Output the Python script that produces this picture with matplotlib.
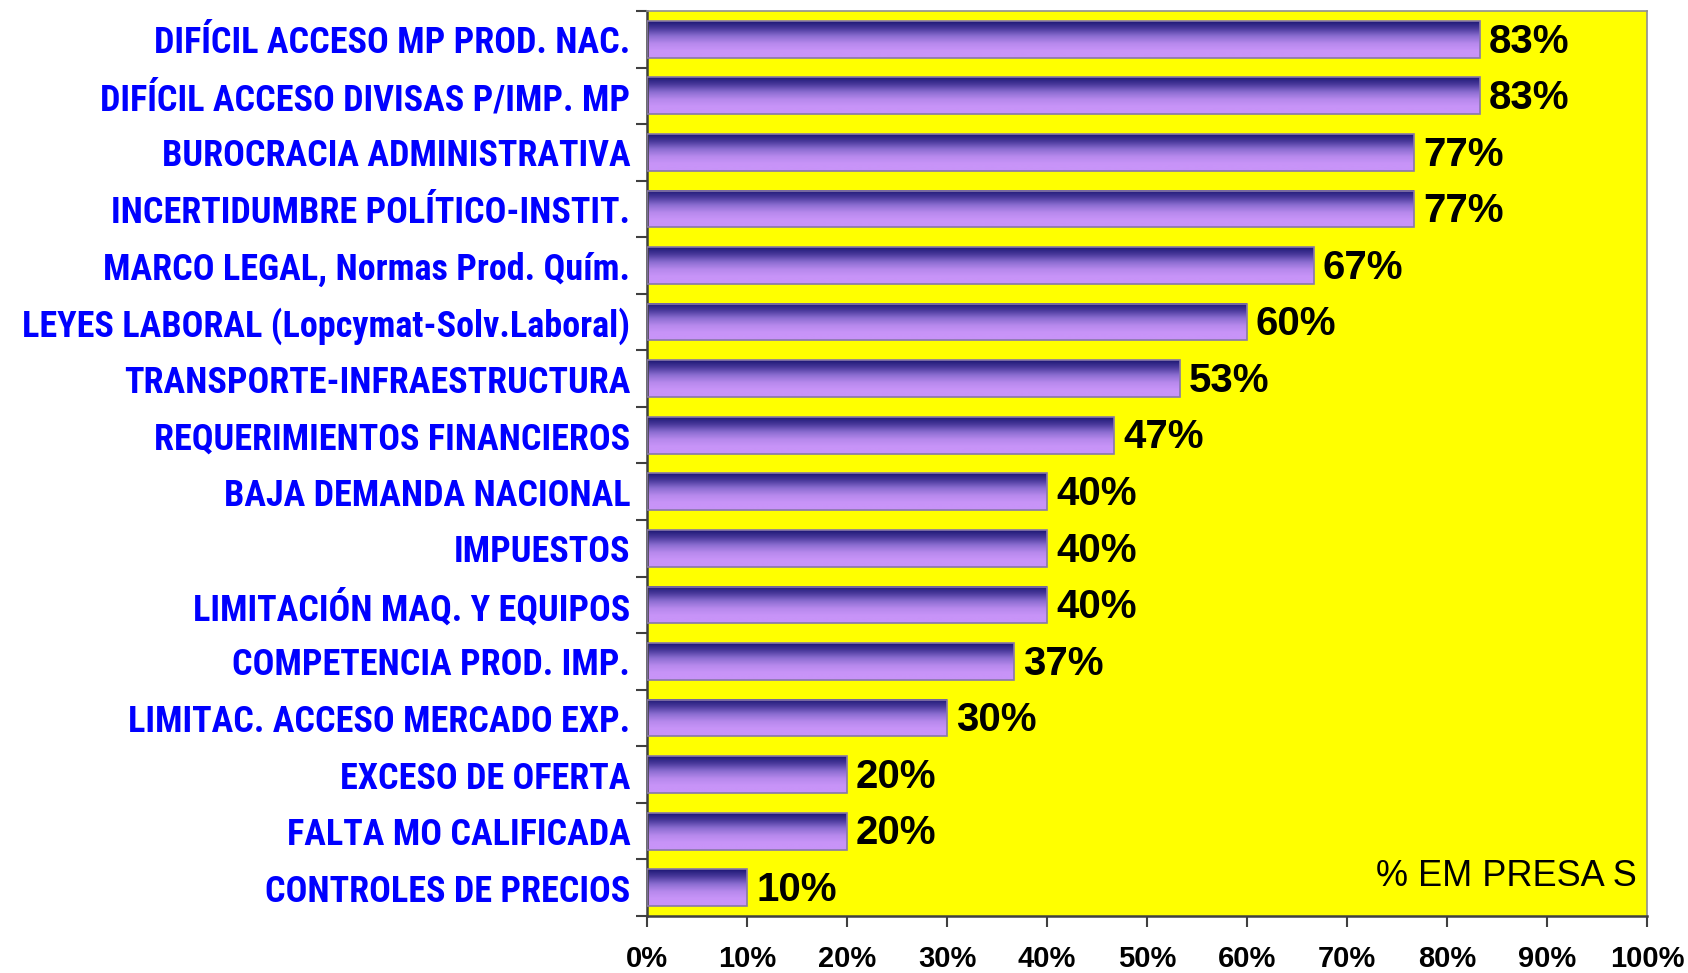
import numpy as np
import matplotlib
matplotlib.use('Agg')
import matplotlib.pyplot as plt
from matplotlib import font_manager
from matplotlib.colors import LinearSegmentedColormap

# Data (top to bottom as shown)
categories = [
    'DIFÍCIL ACCESO MP PROD. NAC.',
    'DIFÍCIL ACCESO DIVISAS P/IMP. MP',
    'BUROCRACIA ADMINISTRATIVA',
    'INCERTIDUMBRE POLÍTICO-INSTIT.',
    'MARCO LEGAL, Normas Prod. Quím.',
    'LEYES LABORAL (Lopcymat-Solv.Laboral)',
    'TRANSPORTE-INFRAESTRUCTURA',
    'REQUERIMIENTOS FINANCIEROS',
    'BAJA DEMANDA NACIONAL',
    'IMPUESTOS',
    'LIMITACIÓN MAQ. Y EQUIPOS',
    'COMPETENCIA PROD. IMP.',
    'LIMITAC. ACCESO MERCADO EXP.',
    'EXCESO DE OFERTA',
    'FALTA MO CALIFICADA',
    'CONTROLES DE PRECIOS',
]
values = [83.3, 83.3, 76.7, 76.7, 66.7, 60.0, 53.3, 46.7, 40.0, 40.0, 40.0, 36.7, 30.0, 20.0, 20.0, 10.0]
x_ticks = [0, 10, 20, 30, 40, 50, 60, 70, 80, 90, 100]

# pick a narrow font for the category labels if available
names = {f.name for f in font_manager.fontManager.ttflist}
narrow = 'Roboto'
for cand in ['Roboto Condensed', 'Liberation Sans Narrow', 'Arial Narrow']:
    if cand in names:
        narrow = cand
        break

fig = plt.figure(figsize=(16.88, 9.73), dpi=100)
ax = fig.add_axes([0.3833, 0.0586, 0.9757 - 0.3833, 0.9887 - 0.0586])
ax.set_facecolor('#ffff00')

n = len(categories)
ypos = np.arange(n)
bar_h = 0.65

cmap = LinearSegmentedColormap.from_list(
    'barfill', ['#1c1774', '#4a3a9c', '#8a6cd0', '#b688ec', '#c894f8', '#c894f8'])
grad = np.linspace(0, 1, 256).reshape(-1, 1)

bars = ax.barh(ypos, values, height=bar_h, color='none', edgecolor='#8878a8', linewidth=1.2, zorder=3)
for b, v in zip(bars, values):
    y0 = b.get_y()
    ax.imshow(grad, cmap=cmap, aspect='auto', extent=(0, v, y0, y0 + bar_h),
              origin='lower', zorder=2, interpolation='bicubic')
    ax.text(v + 0.9, b.get_y() + bar_h / 2 + 0.04, f'{round(v)}%', ha='left', va='center',
            fontsize=29, fontweight='bold', family='Liberation Sans', color='black', zorder=4)

ax.set_xlim(0, 100)
ax.set_ylim(n - 0.5, -0.5)

ax.set_xticks(x_ticks)
ax.set_xticklabels([f'{t}%' for t in x_ticks], fontsize=21, fontweight='bold', family='Liberation Sans')
ax.tick_params(axis='x', length=8, width=1.5, color='#404040', pad=13, direction='out')

ax.set_yticks(ypos)
ax.set_yticklabels(categories, fontsize=26, fontweight='bold', family=narrow, color='#0000ff')
ax.tick_params(axis='y', length=0, pad=12)
ax.set_yticks(np.arange(n + 1) - 0.5, minor=True)
ax.tick_params(axis='y', which='minor', length=8, width=1.5, color='#404040', direction='out')

for s in ['left', 'bottom']:
    ax.spines[s].set_color('#404040')
    ax.spines[s].set_linewidth(1.8)
for s in ['top', 'right']:
    ax.spines[s].set_color('#909090')
    ax.spines[s].set_linewidth(1.2)

ax.text(0.99, 0.033, '% EM PRESA S', transform=ax.transAxes, ha='right', va='baseline',
        fontsize=26, family='Liberation Sans', color='black')

fig.savefig('out.png', dpi=100)
